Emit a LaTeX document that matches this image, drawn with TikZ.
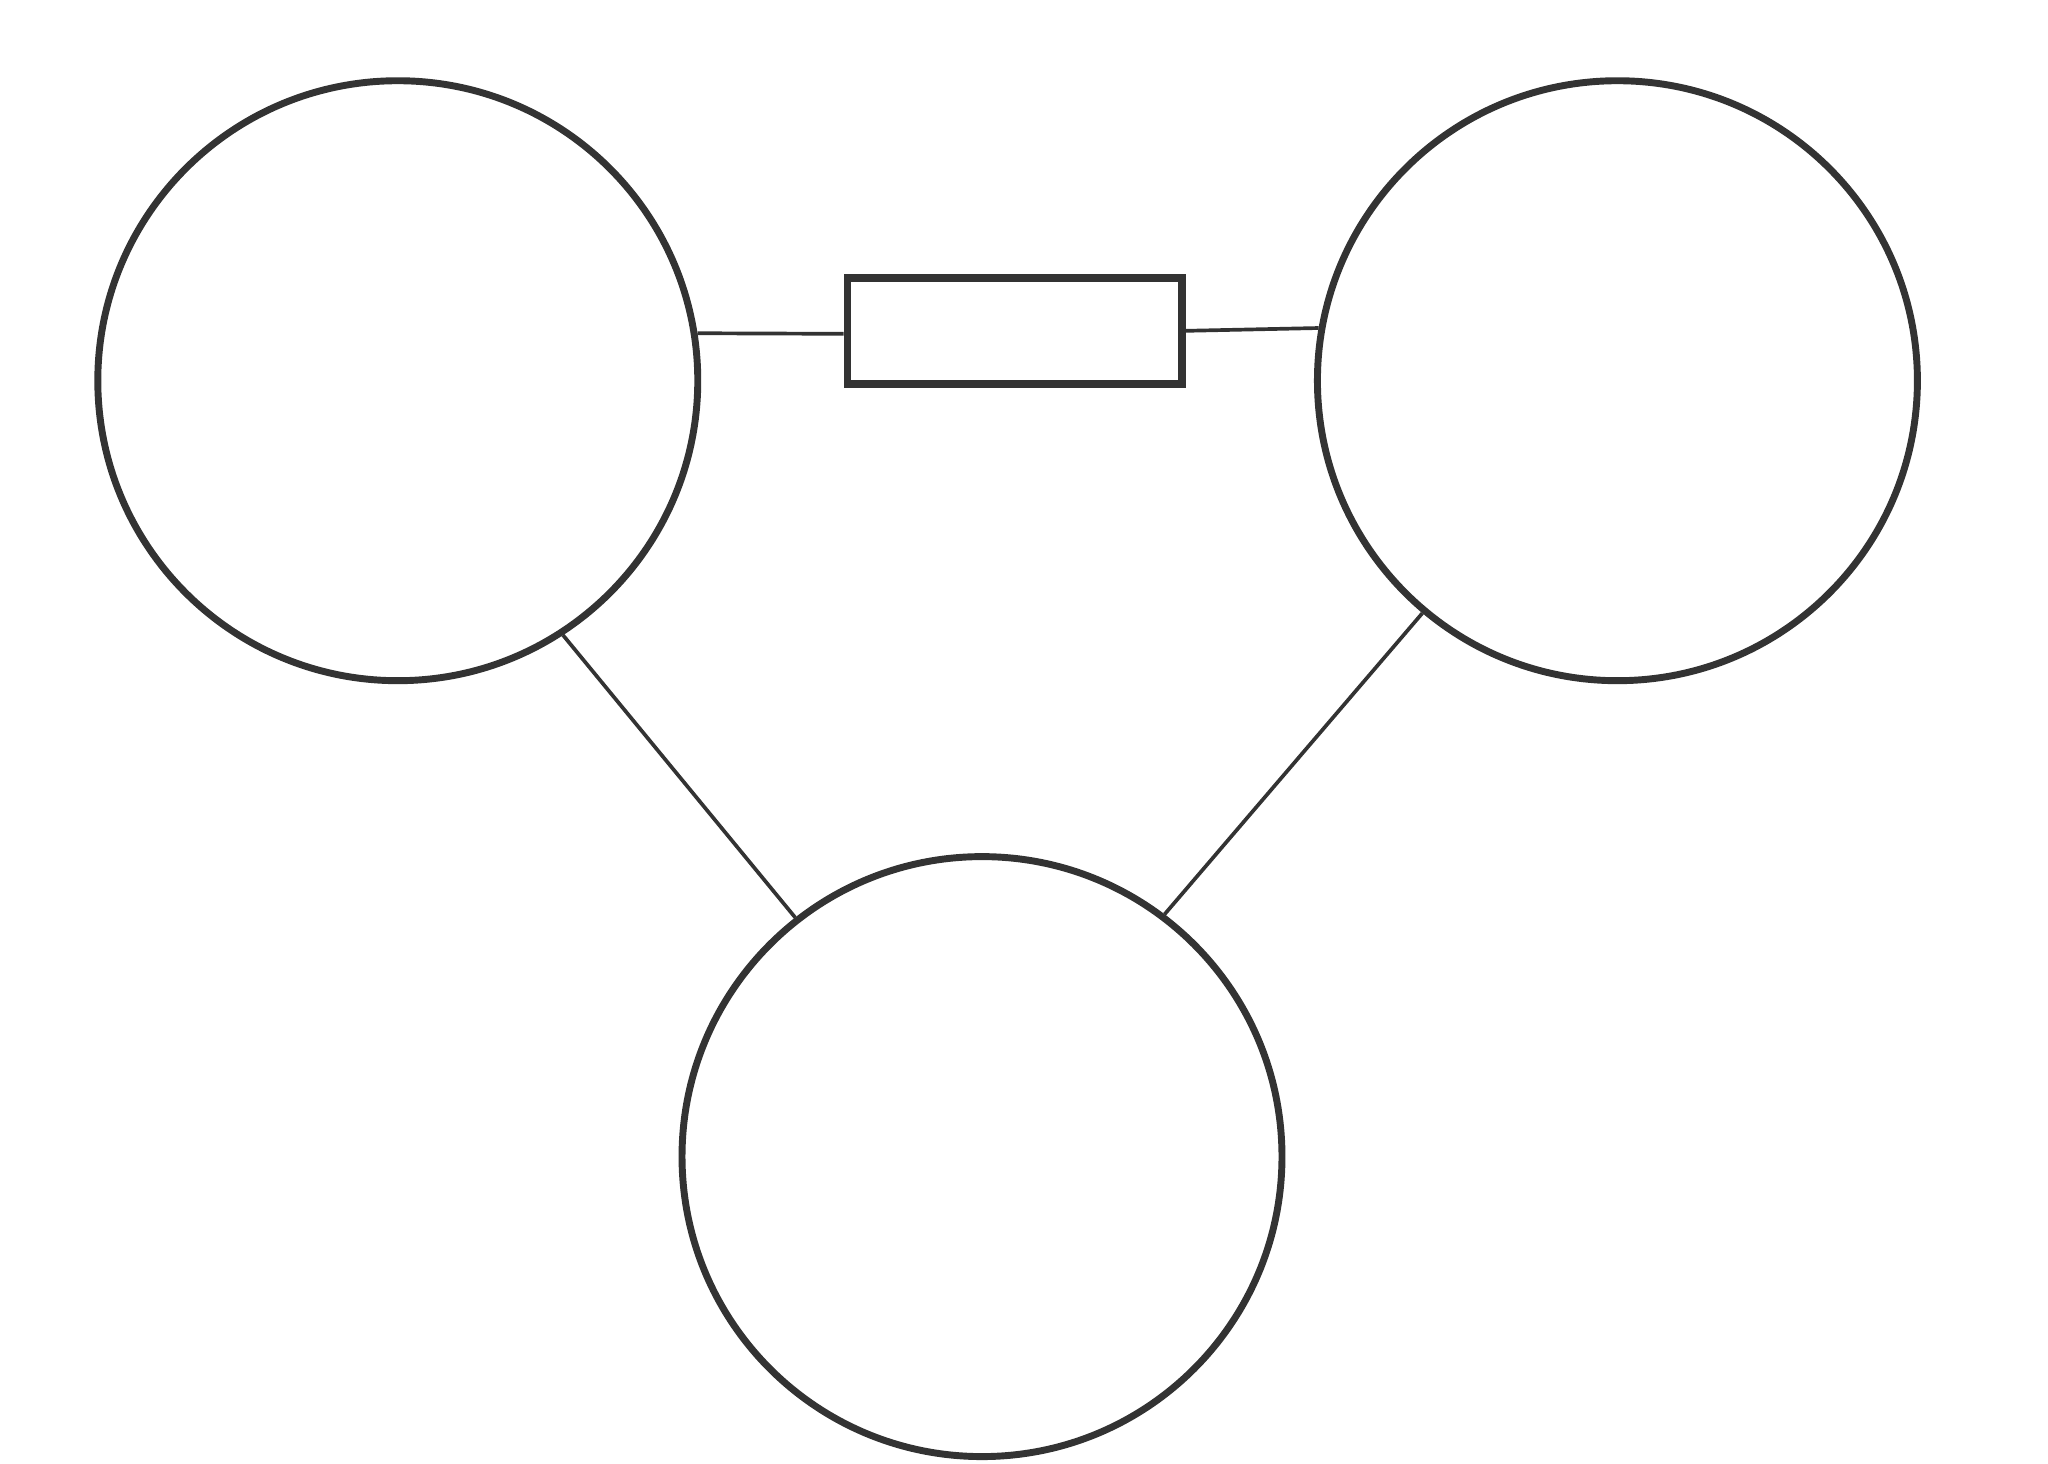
\documentclass[tikz,border=0pt]{standalone}
\usepackage{tikz}

\begin{document}
\begin{tikzpicture}[scale=1,
    ring/.style={circle, draw=black!80, line width=1.5pt, fill=white, minimum size=4.57cm, inner sep=0pt},
    bar/.style={rectangle, draw=black!80, line width=1.7pt, fill=white, minimum width=2.55cm, minimum height=0.81cm, inner sep=0pt},
    link/.style={draw=black!80, line width=0.8pt}]
                \useasboundingbox (0,0) rectangle (15.6,-11.144);
                \node[ring] (l) at (3.03,-2.90) {};
                \node[ring] (r) at (12.32,-2.90) {};
                \node[ring] (b) at (7.48,-8.81) {};
                \node[bar] (m) at (7.73,-2.52) {};
                \draw[link] (l.9.2) -- (m.181);
                \draw[link] (m.-0.5) -- (r.170.6);
                \draw[link] (l.-57) -- (b.128);
                \draw[link] (r.-130) -- (b.53);
                \end{tikzpicture}
\end{document}
